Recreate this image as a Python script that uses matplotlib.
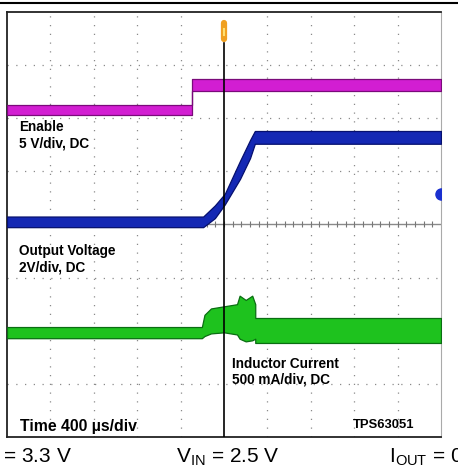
import numpy as np
from matplotlib import pyplot as plt
from matplotlib.lines import Line2D

plt.rcParams['font.family'] = ['Liberation Sans', 'DejaVu Sans']

# traces in scope divisions (10 x 8 grid)
enable_x = [0, 4.27, 4.27, 10]
enable_lo = [6.06, 6.06, 6.52, 6.52]
enable_hi = [6.25, 6.25, 6.74, 6.74]

vout_x = [0, 4.52, 4.79, 5.02, 5.37, 5.60, 5.71, 10]
vout_lo = [3.95, 3.95, 4.12, 4.38, 4.86, 5.25, 5.52, 5.52]
vout_hi = [4.15, 4.15, 4.36, 4.58, 5.20, 5.59, 5.76, 5.76]

il_x = [0, 4.49, 4.55, 4.70, 5.00, 5.30, 5.36, 5.50, 5.65, 5.72, 5.72, 10]
il_lo = [1.86, 1.86, 1.90, 1.95, 1.97, 1.93, 1.85, 1.80, 1.82, 1.85, 1.77, 1.77]
il_hi = [2.07, 2.07, 2.30, 2.42, 2.46, 2.50, 2.66, 2.58, 2.66, 2.50, 2.24, 2.24]

labels = [
    (0.28, 5.97, "Enable\n5 V/div, DC"),
    (0.28, 3.63, "Output Voltage\n2V/div, DC"),
    (5.18, 1.51, "Inductor Current\n500 mA/div, DC"),
]
time_label = "Time 400 \u00b5s/div"
part_label = "TPS63051"
cond_vout = "V$_\\mathregular{OUT}$ = 3.3 V"
cond_vin = "V$_\\mathregular{IN}$ = 2.5 V"
cond_iout = "I$_\\mathregular{OUT}$ = 0"

trigger_x = 5.0
ch2_marker_y = 4.58

fig = plt.figure(figsize=(4.58, 4.70), dpi=100)
ax = fig.add_axes([7 / 458, 33 / 470, 434 / 458, 425 / 470])
ax.set_xlim(0, 10)
ax.set_ylim(0, 8)
ax.set_xticks([])
ax.set_yticks([])
for s in ['left', 'bottom', 'top']:
    ax.spines[s].set_linewidth(1.3)
    ax.spines[s].set_color('#222222')
ax.spines['right'].set_color('#aaaaaa')

# dotted graticule
for gx in range(1, 10):
    if gx != 5:
        ax.axvline(gx, color='#8a8a8a', lw=0.9, ls=(0, (1, 6)), zorder=1)
for gy in range(1, 8):
    if gy != 4:
        ax.axhline(gy, color='#8a8a8a', lw=0.9, ls=(0, (1, 6)), zorder=1)
ax.axhline(4, color='#8a8a8a', lw=1.0, zorder=1)
ticks = np.arange(0.2, 10, 0.2)
ax.plot(ticks, np.full(len(ticks), 4.0), ls='none', marker='|', ms=4,
        color='#777777', mew=0.8, zorder=1)
ax.plot([trigger_x, trigger_x], [0, 7.42], color='black', lw=1.2, zorder=4)

# traces
ax.fill_between(enable_x, enable_lo, enable_hi, facecolor='#d21ed2',
                edgecolor='#7a0a7a', lw=0.9, zorder=3)
ax.fill_between(vout_x, vout_lo, vout_hi, facecolor='#1428b4',
                edgecolor='#06106e', lw=0.9, zorder=3)
ax.fill_between(il_x, il_lo, il_hi, facecolor='#1ec21e',
                edgecolor='#0a6e12', lw=0.9, zorder=3)

# trigger and channel markers
ax.add_line(Line2D([trigger_x, trigger_x], [7.50, 7.80], color='#f0a020',
                   lw=4.5, solid_capstyle='round', zorder=5, clip_on=False))
ax.add_line(Line2D([trigger_x, trigger_x], [7.56, 7.68], color='#ffe070',
                   lw=1.5, zorder=6, clip_on=False))
ax.plot([10], [ch2_marker_y], marker='o', ms=8, color='#1a30d0', zorder=5)

for lx, ly, txt in labels:
    ax.text(lx, ly, txt, fontsize=9.8, fontweight='bold', linespacing=1.2,
            va='top', ha='left', zorder=6)
ax.text(0.3, 0.12, time_label, fontsize=11.4, fontweight='bold', va='baseline',
        ha='left', zorder=6)
ax.text(7.98, 0.17, part_label, fontsize=9.4, fontweight='bold', va='baseline',
        ha='left', zorder=6)

# outer line and test conditions
fig.add_artist(Line2D([0, 1], [467 / 470, 467 / 470], color='black', lw=1.5))
fig.text(72 / 458, 8 / 470, cond_vout, fontsize=15, ha='right', va='baseline')
fig.text(176 / 458, 8 / 470, cond_vin, fontsize=15, ha='left', va='baseline')
fig.text(389 / 458, 8 / 470, cond_iout, fontsize=15, ha='left', va='baseline')

fig.savefig('out.png', dpi=100)
